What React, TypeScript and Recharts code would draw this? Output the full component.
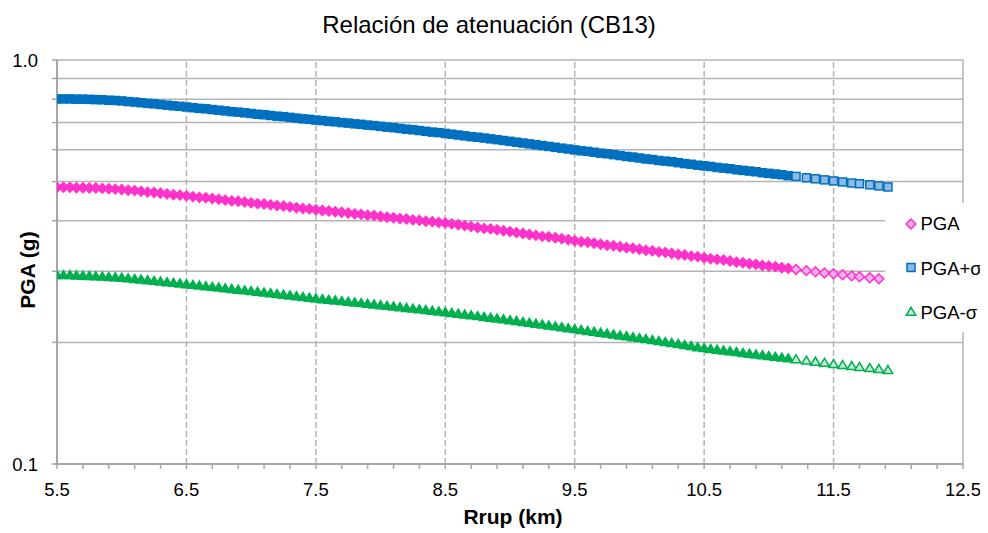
import { ScatterChart, Scatter, XAxis, YAxis, CartesianGrid, ReferenceLine } from "recharts";

const FONT = '"Liberation Sans", Arial, sans-serif';
const W = 980;
const H = 525;

// rupture distance (km), shared by the three series
const rrup = [
  5.5, 5.55, 5.6, 5.65, 5.7, 5.75, 5.8, 5.85, 5.9, 5.95,
  6.0, 6.05, 6.1, 6.15, 6.2, 6.25, 6.3, 6.35, 6.4, 6.45,
  6.5, 6.55, 6.6, 6.65, 6.7, 6.75, 6.8, 6.85, 6.9, 6.95,
  7.0, 7.05, 7.1, 7.15, 7.2, 7.25, 7.3, 7.35, 7.4, 7.45,
  7.5, 7.55, 7.6, 7.65, 7.7, 7.75, 7.8, 7.85, 7.9, 7.95,
  8.0, 8.05, 8.1, 8.15, 8.2, 8.25, 8.3, 8.35, 8.4, 8.45,
  8.5, 8.55, 8.6, 8.65, 8.7, 8.75, 8.8, 8.85, 8.9, 8.95,
  9.0, 9.05, 9.1, 9.15, 9.2, 9.25, 9.3, 9.35, 9.4, 9.45,
  9.5, 9.55, 9.6, 9.65, 9.7, 9.75, 9.8, 9.85, 9.9, 9.95,
  10.0, 10.05, 10.1, 10.15, 10.2, 10.25, 10.3, 10.35, 10.4, 10.45,
  10.5, 10.55, 10.6, 10.65, 10.7, 10.75, 10.8, 10.85, 10.9, 10.95,
  11.0, 11.05, 11.1, 11.15,
  11.21, 11.29, 11.36, 11.43, 11.5, 11.57, 11.64, 11.7, 11.78, 11.85, 11.92,
];

// median PGA (g)
const pga = [
  0.484, 0.484, 0.484, 0.483, 0.483, 0.482, 0.482, 0.481, 0.48, 0.479,
  0.478, 0.476, 0.475, 0.473, 0.471, 0.47, 0.468, 0.466, 0.464, 0.463,
  0.461, 0.459, 0.457, 0.456, 0.454, 0.452, 0.45, 0.448, 0.447, 0.445,
  0.443, 0.441, 0.44, 0.438, 0.436, 0.435, 0.433, 0.431, 0.429, 0.428,
  0.426, 0.424, 0.423, 0.421, 0.42, 0.418, 0.416, 0.415, 0.413, 0.412,
  0.41, 0.408, 0.407, 0.405, 0.404, 0.402, 0.401, 0.399, 0.398, 0.396,
  0.395, 0.393, 0.391, 0.389, 0.387, 0.385, 0.383, 0.382, 0.38, 0.378,
  0.376, 0.374, 0.372, 0.37, 0.368, 0.366, 0.365, 0.363, 0.361, 0.359,
  0.357, 0.355, 0.354, 0.352, 0.35, 0.348, 0.347, 0.345, 0.343, 0.342,
  0.34, 0.338, 0.337, 0.335, 0.334, 0.332, 0.33, 0.329, 0.327, 0.326,
  0.324, 0.322, 0.321, 0.32, 0.318, 0.316, 0.315, 0.313, 0.312, 0.31,
  0.309, 0.308, 0.306, 0.305,
  0.303, 0.301, 0.299, 0.297, 0.2956, 0.294, 0.2922, 0.2907, 0.289, 0.2873, null,
];

// median + one sigma
const pgaPlus = [
  0.801, 0.801, 0.801, 0.8, 0.8, 0.799, 0.798, 0.797, 0.795, 0.794,
  0.792, 0.789, 0.787, 0.784, 0.781, 0.779, 0.776, 0.773, 0.77, 0.768,
  0.765, 0.762, 0.759, 0.757, 0.754, 0.751, 0.748, 0.745, 0.743, 0.74,
  0.737, 0.734, 0.732, 0.729, 0.726, 0.724, 0.721, 0.718, 0.715, 0.713,
  0.71, 0.708, 0.705, 0.703, 0.7, 0.698, 0.695, 0.693, 0.69, 0.688,
  0.685, 0.682, 0.68, 0.677, 0.674, 0.672, 0.669, 0.666, 0.663, 0.661,
  0.658, 0.655, 0.652, 0.649, 0.646, 0.644, 0.641, 0.638, 0.635, 0.632,
  0.629, 0.626, 0.623, 0.62, 0.617, 0.614, 0.611, 0.608, 0.605, 0.602,
  0.599, 0.596, 0.594, 0.591, 0.588, 0.586, 0.583, 0.58, 0.577, 0.575,
  0.572, 0.569, 0.567, 0.564, 0.562, 0.56, 0.557, 0.554, 0.552, 0.549,
  0.547, 0.545, 0.542, 0.54, 0.538, 0.535, 0.533, 0.531, 0.529, 0.526,
  0.524, 0.522, 0.52, 0.517,
  0.515, 0.511, 0.508, 0.505, 0.502, 0.499, 0.496, 0.494, 0.491, 0.488, 0.485,
];

// median - one sigma
const pgaMinus = [
  0.294, 0.294, 0.294, 0.2935, 0.293, 0.2925, 0.292, 0.2915, 0.291, 0.2905,
  0.2897, 0.2887, 0.2876, 0.2866, 0.2855, 0.2845, 0.2834, 0.2824, 0.2813, 0.2803,
  0.2792, 0.2781, 0.277, 0.276, 0.2749, 0.2738, 0.2727, 0.2716, 0.2706, 0.2695,
  0.2684, 0.2673, 0.2662, 0.2651, 0.264, 0.2629, 0.2617, 0.2606, 0.2595, 0.2584,
  0.2573, 0.2563, 0.2554, 0.2544, 0.2535, 0.2525, 0.2515, 0.2506, 0.2496, 0.2487,
  0.2477, 0.2467, 0.2458, 0.2448, 0.2438, 0.2429, 0.2419, 0.2409, 0.2399, 0.239,
  0.238, 0.2369, 0.2359, 0.2348, 0.2338, 0.2327, 0.2316, 0.2306, 0.2295, 0.2285,
  0.2274, 0.2263, 0.2251, 0.224, 0.2229, 0.2218, 0.2206, 0.2195, 0.2184, 0.2172,
  0.2161, 0.215, 0.2139, 0.2129, 0.2118, 0.2107, 0.2096, 0.2085, 0.2075, 0.2064,
  0.2053, 0.2042, 0.203, 0.2019, 0.2007, 0.1996, 0.1985, 0.1973, 0.1962, 0.195,
  0.1939, 0.193, 0.1922, 0.1913, 0.1905, 0.1896, 0.1887, 0.1879, 0.187, 0.1862,
  0.1853, 0.1845, 0.1837, 0.1829,
  0.1819, 0.1806, 0.1794, 0.1783, 0.1771, 0.1761, 0.1751, 0.1742, 0.1731, 0.1721, 0.1711,
];

const xTicks = [
  5.5, 5.7, 5.9, 6.1, 6.3, 6.5, 6.7, 6.9, 7.1, 7.3, 7.5, 7.7, 7.9, 8.1, 8.3, 8.5, 8.7, 8.9,
  9.1, 9.3, 9.5, 9.7, 9.9, 10.1, 10.3, 10.5, 10.7, 10.9, 11.1, 11.3, 11.5, 11.7, 11.9, 12.1,
  12.3, 12.5,
];
const xMajor = [5.5, 6.5, 7.5, 8.5, 9.5, 10.5, 11.5, 12.5];
const xDashed = [6.5, 7.5, 8.5, 9.5, 10.5, 11.5];
const yTicks = [0.1, 0.2, 0.3, 0.4, 0.5, 0.6, 0.7, 0.8, 0.9, 1.0];
const yLabelled = [0.1, 1.0];

// beyond this distance the markers no longer overlap and show their light fill
const TAIL_FROM = 11.2;

const BLUE = "#0070C0";
const BLUE_LIGHT = "#8DB9E3";
const PINK = "#FF33CC";
const PINK_LIGHT = "#F8AEE8";
const GREEN = "#00B050";
const GREEN_LIGHT = "#C4EDD3";
const GRID = "#B4B4B4";
const AXIS = "#A6A6A6";

const toPoints = (ys: (number | null)[]) =>
  rrup.map((x, i) => ({ x, y: ys[i] })).filter((p) => p.y != null);

const pgaData = toPoints(pga);
const plusData = toPoints(pgaPlus);
const minusData = toPoints(pgaMinus);

type Kind = "diamond" | "square" | "triangle";

function Marker({ kind, cx, cy, stroke, fill }: { kind: Kind; cx: number; cy: number; stroke: string; fill: string }) {
  if (cx == null || cy == null) return null;
  if (kind === "square") {
    return <rect x={cx - 4} y={cy - 4} width={8} height={8} fill={fill} stroke={stroke} strokeWidth={1.5} />;
  }
  if (kind === "diamond") {
    const r = 4.9;
    return (
      <polygon
        points={`${cx},${cy - r} ${cx + r},${cy} ${cx},${cy + r} ${cx - r},${cy}`}
        fill={fill}
        stroke={stroke}
        strokeWidth={1.5}
      />
    );
  }
  return (
    <polygon
      points={`${cx},${cy - 4.2} ${cx + 4.8},${cy + 3.8} ${cx - 4.8},${cy + 3.8}`}
      fill={fill}
      stroke={stroke}
      strokeWidth={1.5}
    />
  );
}

const shapeFor = (kind: Kind, dark: string, light: string) => (p: any) => (
  <Marker kind={kind} cx={p.cx} cy={p.cy} stroke={dark} fill={p.payload && p.payload.x >= TAIL_FROM ? light : dark} />
);

const fmtX = (v: number) => (xMajor.some((m) => Math.abs(m - v) < 1e-6) ? v.toFixed(1) : "");
const fmtY = (v: number) => (yLabelled.some((m) => Math.abs(m - v) < 1e-6) ? v.toFixed(1) : "");

const tickStyle = { fontSize: 18.5, fill: "#000", fontFamily: FONT };

const legendItems: { label: string; kind: Kind; dark: string; light: string; cy: number; base: number }[] = [
  { label: "PGA", kind: "diamond", dark: PINK, light: PINK_LIGHT, cy: 216, base: 222 },
  { label: "PGA+σ", kind: "square", dark: BLUE, light: BLUE_LIGHT, cy: 259.5, base: 267 },
  { label: "PGA-σ", kind: "triangle", dark: GREEN, light: GREEN_LIGHT, cy: 303.5, base: 310.5 },
];

export default function App() {
  return (
    <div style={{ position: "relative", width: W, height: H, fontFamily: FONT, background: "#fff" }}>
      <ScatterChart width={W} height={H} margin={{ top: 52, right: 25, bottom: 39, left: 0 }}>
        <CartesianGrid vertical={false} stroke={GRID} strokeWidth={1.5} />
        {xDashed.map((x) => (
          <ReferenceLine key={x} x={x} stroke={GRID} strokeWidth={1.5} strokeDasharray="6 3" />
        ))}
        <ReferenceLine x={12.5} stroke={GRID} strokeWidth={1.5} />
        <XAxis
          type="number"
          dataKey="x"
          domain={[5.5, 12.5]}
          ticks={xTicks}
          interval={0}
          allowDataOverflow
          height={30}
          tickSize={5}
          tickMargin={14}
          tickFormatter={fmtX}
          tick={tickStyle}
          tickLine={{ stroke: AXIS, strokeWidth: 1.5 }}
          axisLine={{ stroke: AXIS, strokeWidth: 2 }}
        />
        <YAxis
          type="number"
          dataKey="y"
          scale="log"
          domain={[0.1, 1]}
          ticks={yTicks}
          interval={0}
          allowDataOverflow
          width={49}
          tickSize={5}
          tickMargin={14}
          tickFormatter={fmtY}
          tick={tickStyle}
          tickLine={{ stroke: AXIS, strokeWidth: 1.5 }}
          axisLine={{ stroke: AXIS, strokeWidth: 2 }}
        />
        <Scatter name="PGA" data={pgaData} shape={shapeFor("diamond", PINK, PINK_LIGHT)} isAnimationActive={false} />
        <Scatter name="PGA+σ" data={plusData} shape={shapeFor("square", BLUE, BLUE_LIGHT)} isAnimationActive={false} />
        <Scatter name="PGA-σ" data={minusData} shape={shapeFor("triangle", GREEN, GREEN_LIGHT)} isAnimationActive={false} />
      </ScatterChart>

      <svg width={W} height={H} style={{ position: "absolute", left: 0, top: 0, pointerEvents: "none" }}>
        <text x={481} y={25.3} textAnchor="middle" fontSize={24} fill="#000" fontFamily={FONT}>
          Relación de atenuación (CB13)
        </text>
        <text x={505} y={516} textAnchor="middle" fontSize={21} fontWeight="bold" fill="#000" fontFamily={FONT}>
          Rrup (km)
        </text>
        <text
          x={27}
          y={262}
          transform="rotate(-90 27 262)"
          textAnchor="middle"
          fontSize={21}
          fontWeight="bold"
          fill="#000"
          fontFamily={FONT}
        >
          PGA (g)
        </text>
        <rect x={877} y={195} width={103} height={129} fill="#fff" />
        {legendItems.map((it) => (
          <g key={it.label}>
            <Marker kind={it.kind} cx={903} cy={it.cy} stroke={it.dark} fill={it.light} />
            <text x={912.5} y={it.base} fontSize={18.5} fill="#000" fontFamily={FONT}>
              {it.label}
            </text>
          </g>
        ))}
      </svg>
    </div>
  );
}
